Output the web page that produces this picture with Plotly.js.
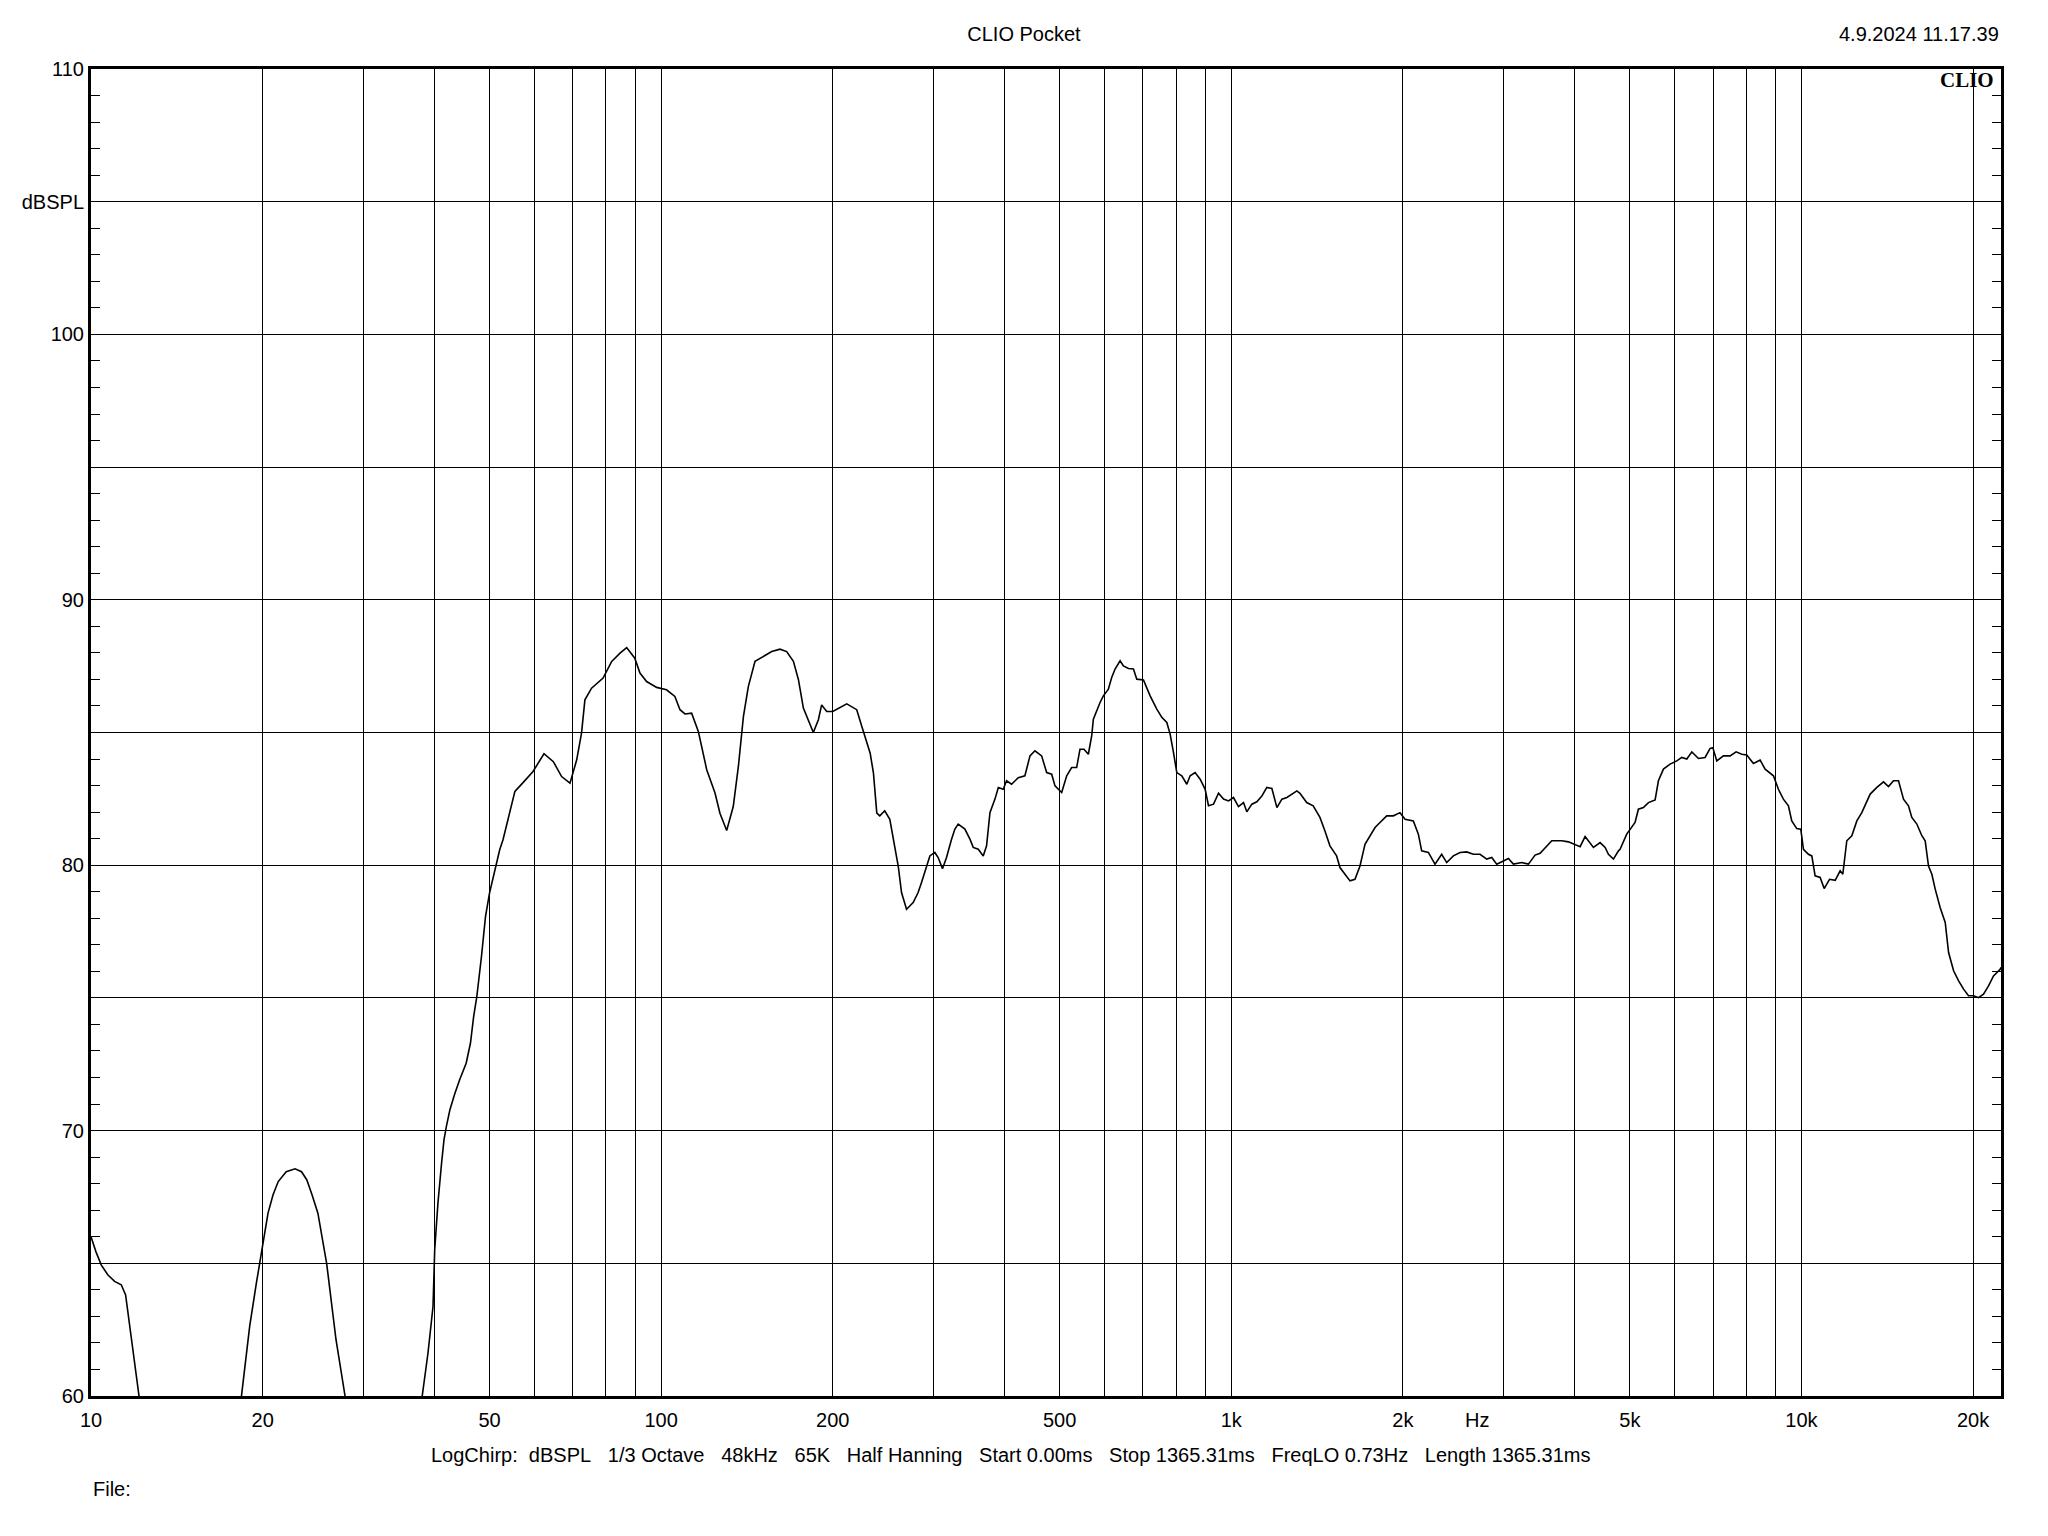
<!DOCTYPE html>
<html>
<head>
<meta charset="utf-8">
<script src="https://cdn.plot.ly/plotly-3.0.1.min.js"></script>
<style>html,body{margin:0;padding:0;background:#fff;}#chart{width:2048px;height:1536px;}</style>
</head>
<body>
<div id="chart"></div>
<script>
// Frequency (Hz) and SPL (dB); null = curve below the 60 dB floor
const freqHz = [
  10.0, 10.2, 10.42, 10.7, 11.0, 11.3, 11.5, 11.77, 12.14, 12.3, 15.0,
  18.2, 18.36, 18.98, 19.5, 20.03, 20.44, 20.86, 21.3, 22.0, 22.8, 23.4, 23.9, 24.4, 25.0, 25.9, 26.9, 27.9, 28.1, 33.0,
  37.9, 38.1, 39.0, 39.8, 40.07, 40.6, 41.2, 41.6, 42.0, 42.6, 43.4, 44.3, 45.5, 46.3, 46.9, 47.5, 48.4, 49.2, 50.0,
  51.1, 52.1, 52.8, 54.3, 55.4, 57.3, 59.6, 62.3, 64.7, 66.9, 69.2, 71.1, 72.5, 73.5, 75.5, 79.1, 81.9, 84.7, 87.0,
  89.9, 91.8, 94.3, 98.2, 102.2, 105.7, 107.9, 110.1, 113.1, 116.2, 120.2, 124.3, 126.8, 130.3, 133.8, 136.6, 139.4,
  142.2, 146.1, 151.1, 156.3, 161.6, 166.0, 170.6, 174.1, 177.6, 181.2, 184.9, 188.7, 191.2, 195.2, 200, 211.6, 220.3,
  224.9, 232.6, 235.7, 238.9, 241.8, 246.7, 251.8, 257, 260.5, 264, 269.4, 276.7, 282.3, 286.2, 292.1, 296, 302,
  306.1, 311.5, 316.6, 323.1, 327.5, 331.9, 341, 348, 352.7, 359.9, 367.2, 372.2, 377.3, 385, 390.3, 398.1, 403.5,
  411.7, 423, 434.5, 443.5, 452.5, 464.9, 474.4, 484.1, 490.7, 504.1, 514.4, 524.8, 535.5, 542.8, 551.6, 561.4, 569,
  572.9, 588.6, 596.5, 608.7, 616.9, 625.4, 638.2, 646.8, 660.1, 673.6, 682.7, 701.4, 720.5, 740.2, 755.2, 770.7,
  781.1, 791.7, 802.4, 818.8, 835.5, 846.8, 864.1, 881.8, 899.8, 912, 930.7, 949.7, 969.1, 988.9, 1008.9, 1029.4,
  1050.5, 1064.7, 1086.5, 1108.7, 1131.4, 1154.5, 1178.1, 1202.3, 1226.8, 1251.6, 1277.2, 1303.3,
  1319.5, 1356, 1392, 1430.5, 1459.6, 1489.4, 1530, 1551, 1582.7, 1615.1, 1647.8, 1681.5, 1715.9, 1751, 1786.9,
  1823.2, 1873, 1924.1, 1976.6, 2017, 2085.9, 2128.6, 2157.3, 2216.2, 2276.7, 2338.8, 2386.7, 2451.8, 2518.8,
  2587.5, 2658.2, 2730.8, 2805.4, 2863, 2921, 3000.8, 3062, 3124.3, 3231.8, 3320, 3410.5, 3480.3, 3575.3, 3648.5,
  3723.2, 3798.6, 3902.2, 4008.7, 4090.5, 4174.2, 4258.6, 4316.8, 4434.6, 4525.4, 4586.2, 4680, 4775.8,
  4807, 4938, 5038, 5107, 5176, 5282, 5391, 5538, 5612, 5727, 5883, 6044, 6167, 6294, 6423, 6598, 6776, 6915, 6991,
  7104, 7298, 7497, 7681, 7858, 8019, 8238, 8463, 8636, 8930, 9112, 9297, 9488, 9616, 9812, 9973, 10081, 10287,
  10427, 10568, 10785, 10961, 11200, 11459, 11693, 11818, 12010, 12256, 12507, 12760, 13109, 13200, 13560, 13930,
  14213, 14503, 14800, 15101, 15408, 15616, 15937, 16262, 16482, 16706, 16933, 17163, 17514, 17872, 18116, 18487,
  18865, 19249, 19634, 20040, 20443, 20862, 21287, 21720, 22313, 22380
];
const splDb = [
  66.0, 65.44, 64.94, 64.57, 64.32, 64.19, 63.81, 62.12, 60.0, 59.2, null,
  59.3, 60.0, 62.62, 64.25, 65.76, 66.89, 67.58, 68.08, 68.45, 68.56, 68.45, 68.15, 67.6, 66.89, 65.0, 62.12, 60.0, 59.4, null,
  59.4, 60.0, 61.62, 63.37, 65.51, 67.27, 68.78, 69.65, 70.15, 70.78, 71.35, 71.91, 72.54, 73.3, 74.3, 75.05, 76.56, 78.07, 78.95,
  79.83, 80.58, 80.96, 81.96, 82.78, 83.12, 83.53, 84.2, 83.9, 83.34, 83.09, 83.97, 84.98, 86.23, 86.67, 87.05, 87.68, 87.99, 88.2,
  87.8, 87.24, 86.92, 86.7, 86.61, 86.36, 85.86, 85.7, 85.73, 85.04, 83.6, 82.72, 81.96, 81.31, 82.21, 83.72, 85.6,
  86.73, 87.68, 87.86, 88.05, 88.14, 88.05, 87.68, 86.99, 85.92, 85.48, 85.0, 85.48, 86.04, 85.79, 85.79, 86.08, 85.86,
  85.23, 84.22, 83.47, 81.96, 81.86, 82.05, 81.73, 80.73, 79.97, 78.97, 78.34, 78.59, 78.97, 79.35, 79.91, 80.35, 80.48,
  80.29, 79.87, 80.29, 80.98, 81.36, 81.55, 81.36, 80.98, 80.67, 80.6, 80.35, 80.73, 81.98, 82.49, 82.93, 82.86, 83.18,
  83.05, 83.3, 83.37, 84.12, 84.31, 84.12, 83.49, 83.43, 82.99, 82.74, 83.37, 83.68, 83.68, 84.37, 84.37, 84.18, 84.87,
  85.5, 86.13, 86.38, 86.63, 87.07, 87.39, 87.7, 87.51, 87.41, 87.39, 87.01, 86.98, 86.38, 85.88, 85.57, 85.38,
  84.94, 84.25, 83.49, 83.37, 83.05, 83.37, 83.49, 83.24, 82.86, 82.24, 82.3, 82.71, 82.49, 82.42, 82.55, 82.21,
  82.36, 82.01, 82.3, 82.39, 82.61, 82.93, 82.89, 82.17, 82.49, 82.55, 82.68, 82.8,
  82.71, 82.36, 82.24, 81.8, 81.29, 80.73, 80.35, 79.91, 79.66, 79.41, 79.47, 79.97, 80.79, 81.11, 81.42,
  81.61, 81.86, 81.86, 81.98, 81.73, 81.67, 81.17, 80.54, 80.48, 80.04, 80.41, 80.1, 80.35, 80.48,
  80.5, 80.41, 80.41, 80.23, 80.29, 80.04, 80.16, 80.25, 80.04, 80.1, 80.04, 80.38, 80.45, 80.73, 80.92,
  80.92, 80.92, 80.88, 80.79, 80.7, 81.08, 80.85, 80.67, 80.85, 80.67, 80.41, 80.23, 80.54,
  80.6, 81.17, 81.42, 81.61, 82.11, 82.17, 82.36, 82.46, 83.18, 83.62, 83.81, 83.93, 84.06, 84.0, 84.27, 84.02, 84.06, 84.4, 84.43,
  83.93, 84.12, 84.12, 84.27, 84.18, 84.15, 83.83, 83.96, 83.62, 83.37, 82.86, 82.49, 82.24, 81.67, 81.38, 81.36, 80.6, 80.41,
  80.35, 79.6, 79.54, 79.12, 79.47, 79.43, 79.79, 79.66, 80.92, 81.11, 81.67, 81.98, 82.49, 82.68, 82.93, 83.14,
  82.96, 83.18, 83.18, 82.49, 82.24, 81.8, 81.55, 81.11, 80.92, 79.97, 79.66, 79.1, 78.4, 77.84, 76.71, 76.02,
  75.64, 75.33, 75.08, 75.08, 75.01, 75.14, 75.45, 75.83, 76.08, 76.15
];

// Grid / tick frequencies and labels
const gridFreqs = [10, 20, 30, 40, 50, 60, 70, 80, 90, 100, 200, 300, 400, 500, 600, 700, 800, 900,
  1000, 2000, 3000, 4000, 5000, 6000, 7000, 8000, 9000, 10000, 20000];
const gridFreqLabels = ['10', '20', '', '', '50', '', '', '', '', '100', '200', '', '', '500', '', '', '', '',
  '1k', '2k', '', '', '5k', '', '', '', '', '10k', '20k'];
const dbTicks = [60, 65, 70, 75, 80, 85, 90, 95, 100, 105, 110];
const dbTickLabels = ['60', '', '70', '', '80', '', '90', '', '100', 'dBSPL', '110'];

const chartTitle = 'CLIO Pocket';
const dateStamp = '4.9.2024 11.17.39';
const unitLabel = 'Hz';
const unitLabelFreq = 2700;
const sp = '\u00a0\u00a0\u00a0';
const infoLine = ['LogChirp:\u00a0\u00a0dBSPL', '1/3 Octave', '48kHz', '65K', 'Half Hanning', 'Start 0.00ms',
  'Stop 1365.31ms', 'FreqLO 0.73Hz', 'Length 1365.31ms'].join(sp);
const fileLine = 'File:';
const brand = 'CLIO';

const FONT = 'Liberation Sans, Arial, sans-serif';

const trace = {
  x: freqHz, y: splDb, type: 'scatter', mode: 'lines',
  line: {color: '#000', width: 1.6, shape: 'linear'},
  connectgaps: false, hoverinfo: 'skip', showlegend: false
};

const layout = {
  width: 2048, height: 1536,
  paper_bgcolor: '#fff', plot_bgcolor: '#fff',
  margin: {l: 91, r: 47, t: 69, b: 140, pad: 0},
  font: {family: FONT, size: 20, color: '#000'},
  title: {text: chartTitle, xref: 'container', x: 0.5, xanchor: 'center',
          yref: 'container', y: 1 - 34 / 1536, yanchor: 'middle',
          font: {family: FONT, size: 20, color: '#000'}},
  xaxis: {
    type: 'log', range: [1, 4.35],
    tickmode: 'array', tickvals: gridFreqs, ticktext: gridFreqLabels,
    showgrid: true, gridcolor: '#000', gridwidth: 1,
    ticks: '', ticklabelstandoff: 4,
    showline: true, linecolor: '#000', linewidth: 3, mirror: true,
    zeroline: false, tickfont: {family: FONT, size: 20, color: '#000'}
  },
  yaxis: {
    range: [60, 110],
    tickmode: 'array', tickvals: dbTicks, ticktext: dbTickLabels,
    showgrid: true, gridcolor: '#000', gridwidth: 1,
    ticks: 'inside', ticklen: 9, tickcolor: '#000', tickwidth: 1,
    minor: {dtick: 1, ticks: 'inside', ticklen: 9, tickcolor: '#000', tickwidth: 1, showgrid: false},
    showline: true, linecolor: '#000', linewidth: 3, mirror: 'allticks',
    zeroline: false, ticklabelstandoff: 0,
    tickfont: {family: FONT, size: 20, color: '#000'}
  },
  annotations: [
    {text: dateStamp, xref: 'paper', yref: 'paper', x: 1, y: 1 + 35 / 1327,
     xanchor: 'right', yanchor: 'middle', showarrow: false, font: {family: FONT, size: 20, color: '#000'}},
    {text: '<b>' + brand + '</b>', xref: 'paper', yref: 'paper', x: 0.9975, y: 1 - 11 / 1327,
     xanchor: 'right', yanchor: 'middle', showarrow: false,
     font: {family: 'Liberation Serif, Times New Roman, serif', size: 21, color: '#000'}},
    {text: unitLabel, xref: 'x', yref: 'paper', x: Math.log10(unitLabelFreq), y: -24 / 1327,
     xanchor: 'center', yanchor: 'middle', showarrow: false, font: {family: FONT, size: 20, color: '#000'}},
    {text: infoLine, xref: 'paper', yref: 'paper', x: 0.4815, y: -59 / 1327,
     xanchor: 'center', yanchor: 'middle', showarrow: false, font: {family: FONT, size: 20, color: '#000'}},
    {text: fileLine, xref: 'paper', yref: 'paper', x: 0, y: -93 / 1327,
     xanchor: 'left', yanchor: 'middle', showarrow: false, font: {family: FONT, size: 20, color: '#000'}}
  ]
};

Plotly.newPlot('chart', [trace], layout, {staticPlot: true, displayModeBar: false});
</script>
</body>
</html>
